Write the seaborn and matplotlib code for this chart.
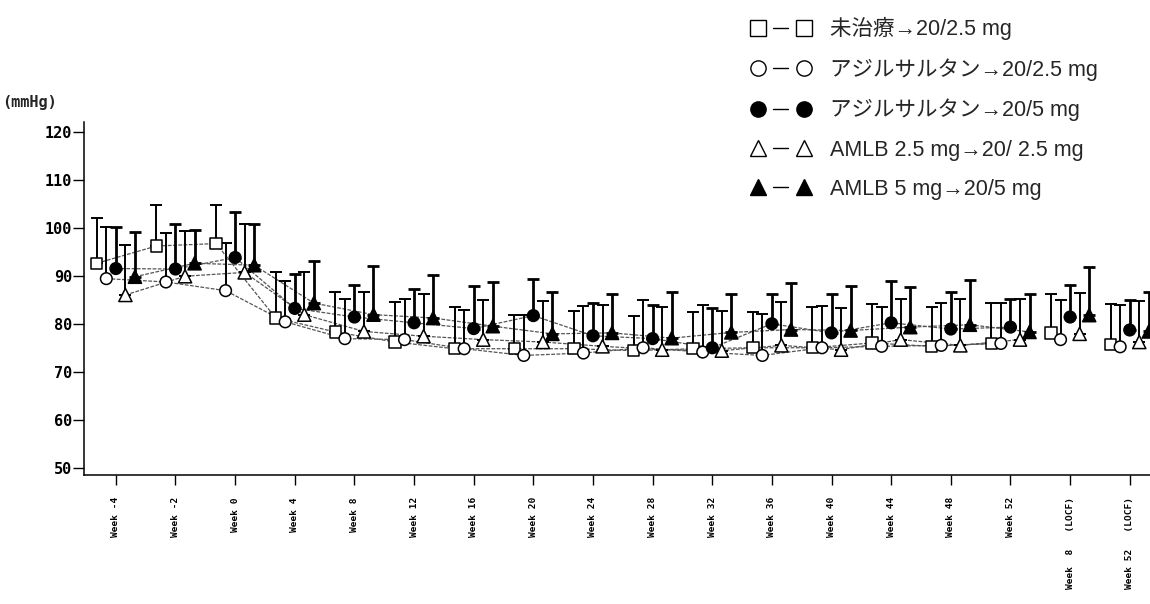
import numpy as np
import pandas as pd
import seaborn as sns
import matplotlib.pyplot as plt
from matplotlib.lines import Line2D
from matplotlib.legend_handler import HandlerTuple
from matplotlib.font_manager import FontProperties

# visits on the x axis
visits = ["Week -4", "Week -2", "Week 0", "Week 4", "Week 8", "Week 12",
          "Week 16", "Week 20", "Week 24", "Week 28", "Week 32", "Week 36",
          "Week 40", "Week 44", "Week 48", "Week 52",
          "Week  8   (LOCF)", "Week 52   (LOCF)"]
n_main = 16  # the two LOCF visits are not joined by lines

groups = ["未治療→20/2.5 mg",
          "アジルサルタン→20/2.5 mg",
          "アジルサルタン→20/5 mg",
          "AMLB 2.5 mg→20/ 2.5 mg",
          "AMLB 5 mg→20/5 mg"]

# mean (mmHg)
mean_untreated = [92.7, 96.3, 96.8, 81.3, 78.4, 76.3, 74.9, 74.9, 74.9, 74.5,
                  74.9, 75.1, 75.1, 76.1, 75.4, 76.0, 78.2, 75.8]
mean_azl_25 = [89.5, 88.8, 87.0, 80.5, 77.0, 76.8, 74.9, 73.5, 74.0, 75.1,
               74.2, 73.5, 75.1, 75.4, 75.6, 76.0, 76.8, 75.3]
mean_azl_5 = [91.6, 91.5, 93.9, 83.3, 81.5, 80.3, 79.1, 81.8, 77.6, 77.0,
              75.1, 80.1, 78.2, 80.3, 79.0, 79.4, 81.5, 78.8]
mean_amlb_25 = [86.1, 90.0, 90.8, 82.0, 78.5, 77.5, 76.8, 76.3, 75.4, 74.7,
                74.5, 75.6, 74.7, 76.8, 75.6, 76.8, 78.0, 76.3]
mean_amlb_5 = [89.9, 92.7, 92.3, 84.4, 82.0, 81.3, 79.6, 78.0, 78.2, 77.1,
               78.3, 78.9, 78.7, 79.4, 79.9, 78.4, 81.9, 78.5]

# standard deviation (upper bar only)
sd_untreated = [9.4, 8.6, 8.1, 9.6, 8.3, 8.3, 8.6, 7.0, 7.8, 7.3,
                7.7, 7.4, 8.4, 8.2, 8.1, 8.4, 8.2, 8.5]
sd_azl_25 = [10.8, 10.3, 9.9, 8.6, 8.3, 8.5, 8.1, 8.5, 9.8, 10.0,
             9.8, 8.6, 8.7, 8.1, 8.8, 8.4, 8.3, 8.7]
sd_azl_5 = [8.7, 9.3, 9.4, 7.2, 6.6, 7.1, 8.8, 7.6, 6.8, 7.1,
            8.2, 6.1, 8.2, 8.7, 7.7, 5.9, 6.6, 6.2]
sd_amlb_25 = [10.4, 9.4, 10.0, 8.9, 8.2, 8.9, 8.3, 8.5, 8.7, 8.8,
              8.2, 9.0, 8.6, 8.5, 9.7, 8.5, 8.5, 8.6]
sd_amlb_5 = [9.3, 6.9, 8.5, 8.7, 10.1, 8.9, 9.2, 8.7, 8.1, 9.6,
             8.1, 9.7, 9.3, 8.4, 9.3, 8.0, 10.0, 8.2]

means = [mean_untreated, mean_azl_25, mean_azl_5, mean_amlb_25, mean_amlb_5]
sds = [sd_untreated, sd_azl_25, sd_azl_5, sd_amlb_25, sd_amlb_5]

markers = ["s", "o", "o", "^", "^"]
fills = ["white", "white", "black", "white", "black"]
offsets = [-0.32, -0.16, 0.0, 0.16, 0.32]

rows = []
for g, grp in enumerate(groups):
    for i, v in enumerate(visits):
        rows.append({"group": grp, "visit": i, "xpos": i + offsets[g],
                     "mean": means[g][i], "sd": sds[g][i], "main": i < n_main})
df = pd.DataFrame(rows)

sns.set_style("white")
plt.rcParams["font.family"] = ["Liberation Sans", "Noto Sans CJK JP", "DejaVu Sans"]

fig = plt.figure(figsize=(11.5, 6.04), dpi=100)
ax = fig.add_axes([0.073, 0.2136, 0.927, 0.585])

# thin grey connecting lines (LOCF excluded)
sns.lineplot(data=df[df["main"]], x="xpos", y="mean", hue="group",
             palette=["#555555"] * 5, legend=False, lw=0.9,
             linestyle=(0, (3, 1.2)), sort=True, ax=ax, zorder=1)

# upper error bars
for g, grp in enumerate(groups):
    d = df[df["group"] == grp]
    lw = 2.0 if fills[g] == "black" else 1.4
    ax.errorbar(d["xpos"], d["mean"], yerr=[np.zeros(len(d)), d["sd"]],
                fmt="none", ecolor="black", elinewidth=lw, capsize=4.5,
                capthick=lw, zorder=2)

sns.scatterplot(data=df, x="xpos", y="mean", hue="group", style="group",
                palette=dict(zip(groups, fills)),
                markers=dict(zip(groups, markers)),
                size="group", sizes=dict(zip(groups, [68, 70, 70, 90, 90])),
                edgecolor="black", linewidth=1.1, legend=False, ax=ax, zorder=3)

ax.set_xlim(-0.535, 17.34)
ax.set_ylim(48.6, 122.2)
ax.set_yticks(range(50, 121, 10))
ax.set_xticks(range(len(visits)))
ax.set_xticklabels(visits, rotation=90, ha="center", va="top")
ax.set_xlabel("")
ax.set_ylabel("")

mono = FontProperties(family="DejaVu Sans Mono", weight="bold", size=11)
mono_small = FontProperties(family="DejaVu Sans Mono", weight="bold", size=6.8)
for t in ax.get_yticklabels():
    t.set_fontproperties(mono)
for t in ax.get_xticklabels():
    t.set_fontproperties(mono_small)

ax.tick_params(axis="y", direction="out", length=8, width=1, pad=0.5,
               left=True, colors="black")
ax.tick_params(axis="x", direction="out", length=7, width=1, pad=9,
               bottom=True, colors="black")
for s in ["top", "right"]:
    ax.spines[s].set_visible(False)
for s in ["left", "bottom"]:
    ax.spines[s].set_color("black")
    ax.spines[s].set_linewidth(1.1)

fig.text(0.002, 1 - 103 / 604, "(mmHg)", fontproperties=FontProperties(
    family="DejaVu Sans Mono", weight="bold", size=11), va="center", ha="left")

# legend: marker - dash - marker
handles = []
for g in range(len(groups)):
    mk = Line2D([], [], linestyle="none", marker=markers[g], markersize=11,
                markerfacecolor=fills[g], markeredgecolor="black",
                markeredgewidth=1.0)
    dash = Line2D([], [], color="black", lw=1.0)
    handles.append((mk, dash, mk))

leg = fig.legend(handles, groups, loc="upper left",
                 bbox_to_anchor=(750 / 1150, 1 - 17 / 604),
                 frameon=False, borderpad=0, borderaxespad=0,
                 handlelength=2.84, handletextpad=0.88, labelspacing=0.84,
                 numpoints=1,
                 prop=FontProperties(family=["Liberation Sans", "Noto Sans CJK JP"],
                                     size=15.5),
                 handler_map={tuple: HandlerTuple(ndivide=None, pad=0.37)})

fig.savefig("out.png", dpi=100)
